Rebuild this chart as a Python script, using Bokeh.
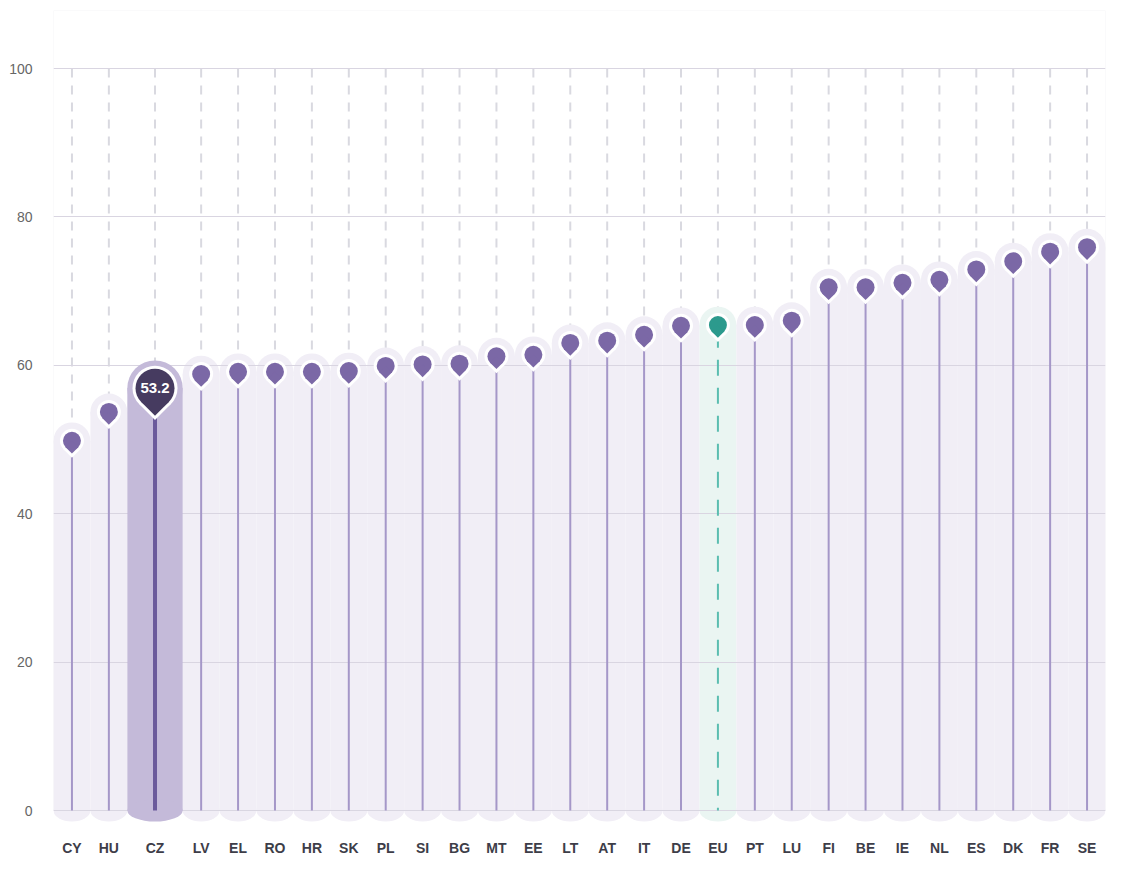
import numpy as np
from bokeh.plotting import figure
from bokeh.models import FixedTicker, Range1d, BoxAnnotation, ColumnDataSource
from bokeh.core.properties import value
from bokeh.embed import file_html
from bokeh.resources import INLINE

countries = ["CY", "HU", "CZ", "LV", "EL", "RO", "HR", "SK", "PL", "SI", "BG", "MT", "EE", "LT",
             "AT", "IT", "DE", "EU", "PT", "LU", "FI", "BE", "IE", "NL", "ES", "DK", "FR", "SE"]
scores = [48.1, 52.0, 53.2, 57.1, 57.4, 57.4, 57.4, 57.5, 58.2, 58.4, 58.5, 59.5, 59.7, 61.3,
          61.6, 62.4, 63.6, 63.7, 63.7, 64.3, 68.8, 68.8, 69.4, 69.8, 71.2, 72.3, 73.6, 74.2]
y_ticks = [0, 20, 40, 60, 80, 100]
highlight = "CZ"
average = "EU"

# ---- layout constants ----
PPU = 7.42                # pixels per y unit
Y_END = 800 / PPU
Y_START = -15 / PPU
FRAME_H = int(round((Y_END - Y_START) * PPU))
FRAME_W = 1052

slot = np.array([6 if c == highlight else 4 for c in countries])
edges = np.concatenate([[0], np.cumsum(slot)])
xs = ((edges[:-1] + edges[1:]) // 2).astype(int)
X_END = int(edges[-1])
v = np.array(scores, dtype=float)

is_hi = np.array([c == highlight for c in countries])
is_avg = np.array([c == average for c in countries])
normal = ~is_hi & ~is_avg

r = np.where(is_hi, 19.5, 9.0)          # pin head radius (px)
ow = 3.0                                 # white outline width (px)
head = v + r * np.sqrt(2) / PPU          # pin head centre (data)

LIGHT = "#f1eef6"
HI_COL = "#c4bad9"
AVG_COL = "#eaf5f2"
PIN = "#7b68a6"
STEM = "#a597c8"
HI_PIN = "#463b60"
HI_STEM = "#6b5a9b"
AVG_PIN = "#2c9a8d"
AVG_STEM = "#5bbdb0"
DASH = "#d9d9e0"
GRID = "#d9d5e1"

p = figure(frame_width=FRAME_W, frame_height=FRAME_H,
           x_range=Range1d(0, X_END), y_range=Range1d(Y_START, Y_END),
           output_backend="svg", toolbar_location=None,
           min_border_left=53, min_border_right=18, min_border_top=10, min_border_bottom=38)
p.outline_line_color = None
p.background_fill_color = "white"
p.border_fill_color = "white"

# grey dashed guides from 100 down to the pin
r_dash = p.segment(x0=xs, y0=[100] * len(xs), x1=xs, y1=head, line_color=DASH,
                   line_width=2, line_dash="9 8")
r_dash.level = "image"

# background columns
src_bg = ColumnDataSource(dict(
    x=xs, w=slot, top=head, rad=slot / 2,
    color=[HI_COL if h else (AVG_COL if a else LIGHT) for h, a in zip(is_hi, is_avg)],
))
def columns(view_mask, level):
    idx = np.where(view_mask)[0]
    s = ColumnDataSource({k: np.asarray(vv)[idx] for k, vv in src_bg.data.items()})
    a = p.vbar(x="x", width="w", top="top", bottom=0, source=s, fill_color="color", line_color=None)
    b = p.circle(x="x", y="top", radius="rad", radius_dimension="x", source=s,
                 fill_color="color", line_color=None)
    c = p.ellipse(x="x", y=0, width="w", height=22, height_units="screen", source=s,
                  fill_color="color", line_color=None)
    for rr in (a, b, c):
        rr.level = level

columns(~is_hi, "image")
columns(is_hi, "glyph")

# grid
p.xgrid.visible = False
p.ygrid.ticker = FixedTicker(ticks=y_ticks)
p.ygrid.grid_line_color = GRID
p.ygrid.grid_line_width = 1

# stems
m = normal
p.segment(x0=xs[m], y0=[0] * m.sum(), x1=xs[m], y1=v[m], line_color=STEM, line_width=2)
p.segment(x0=xs[is_hi], y0=[0], x1=xs[is_hi], y1=v[is_hi], line_color=HI_STEM, line_width=4)
p.segment(x0=xs[is_avg], y0=v[is_avg], x1=xs[is_avg], y1=[0], line_color=AVG_STEM,
          line_width=2, line_dash="16 12", line_dash_offset=6)

# pins: circle + 45deg-rotated square (tangent teardrop)
def pins(mask, rad, color):
    x = xs[mask]
    c = head[mask]
    rw = rad + ow
    p.scatter(x=x, y=c, marker="circle", size=2 * rw, fill_color="white", line_color=None)
    p.scatter(x=x, y=c - (rw / np.sqrt(2)) / PPU, marker="square", size=rw, angle=np.pi / 4,
              fill_color="white", line_color=None)
    p.scatter(x=x, y=c, marker="circle", size=2 * rad, fill_color=color, line_color=None)
    p.scatter(x=x, y=c - (rad / np.sqrt(2)) / PPU, marker="square", size=rad, angle=np.pi / 4,
              fill_color=color, line_color=None)

pins(normal, 9.0, PIN)
pins(is_avg, 9.0, AVG_PIN)
pins(is_hi, 19.5, HI_PIN)

p.text(x=xs[is_hi], y=head[is_hi], text=[f"{s:.1f}" for s in v[is_hi]],
       text_align="center", text_baseline="middle", text_color="white",
       text_font_size="15px", text_font_style="bold", text_font=value("Liberation Sans"))

# frame border (top/left/right)
p.add_layout(BoxAnnotation(bottom=0, fill_color=None, line_color="#dcdbe2", line_width=1,
                           level="underlay"))

# axes
p.xaxis.ticker = FixedTicker(ticks=[int(x) for x in xs])
p.xaxis.major_label_overrides = {int(x): c for x, c in zip(xs, countries)}
p.yaxis.ticker = FixedTicker(ticks=y_ticks)
for ax in (p.xaxis, p.yaxis):
    ax.axis_line_color = None
    ax.major_tick_line_color = None
    ax.minor_tick_line_color = None
    ax.major_label_text_font = "Liberation Sans"
    ax.major_label_text_font_size = "14px"
p.xaxis.major_label_text_font_style = "bold"
p.xaxis.major_label_text_color = "#3d3d48"
p.xaxis.major_label_standoff = 8
p.yaxis.major_label_text_color = "#666666"
p.yaxis.major_label_standoff = 15

open("out.html", "w").write(file_html(p, INLINE))
